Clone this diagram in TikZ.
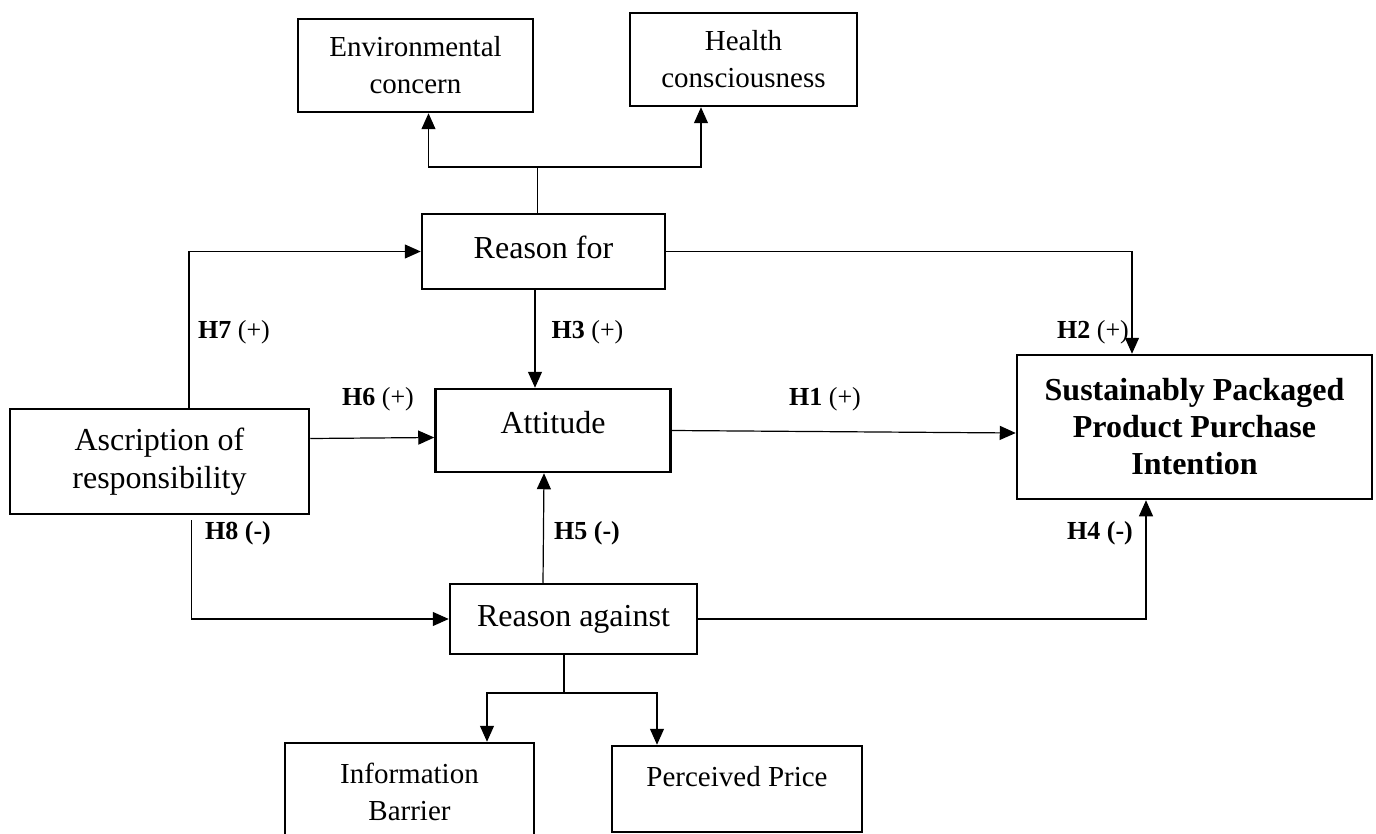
\documentclass[tikz,border=0pt]{standalone}
\usepackage{fontspec}
\setmainfont{Liberation Serif}
\usetikzlibrary{positioning,arrows.meta}

\begin{document}
\begin{tikzpicture}[x=1pt,y=-1pt,on grid]
    \tikzstyle{box}=[draw, line width=2.5pt, align=center, inner sep=0pt, font=\fontsize{32}{38}\selectfont]
    \tikzstyle{smallbox}=[box, font=\fontsize{29}{37}\selectfont]
    \tikzstyle{hyp}=[inner sep=0pt, font=\fontsize{26}{30}\selectfont]
    \tikzstyle{link}=[line width=1.2pt]
    \tikzstyle{arr}=[link, -{Triangle[length=16pt,width=14pt]}]
    \useasboundingbox (0,0) rectangle (1376,834);

    \node[box, minimum width=235pt, minimum height=83pt, text depth=17pt] (att) at (553,430.5) {Attitude};

    \node[box, minimum width=243pt, minimum height=75pt, text depth=9pt, above left=179pt and 9.5pt of att] (rfor) {Reason for};
    \node[box, minimum width=247pt, minimum height=70pt, below right=188.5pt and 20.5pt of att] (ragainst) {Reason against};
    \node[box, minimum width=299pt, minimum height=105pt, below left=31pt and 393.5pt of att] (asc) {Ascription of\\responsibility};
    \node[box, minimum width=355pt, minimum height=144pt, font=\bfseries\fontsize{32}{37}\selectfont, above right=3.5pt and 641.5pt of att] (sppp) {Sustainably Packaged\\Product Purchase\\Intention};

    \node[smallbox, minimum width=235pt, minimum height=93pt, above left=186pt and 128pt of rfor] (env) {Environmental\\concern};
    \node[smallbox, minimum width=227pt, minimum height=93pt, above right=192pt and 200pt of rfor] (health) {Health\\consciousness};
    \node[smallbox, minimum width=249pt, minimum height=97pt, below left=172.5pt and 164pt of ragainst] (info) {Information\\Barrier};
    \node[smallbox, minimum width=250pt, minimum height=86pt, text depth=26pt, below right=170pt and 163.5pt of ragainst] (price) {Perceived Price};

    \node[hyp] (h7) at (234,332) {\textbf{H7} (+)};
    \node[hyp] (h3) at (587.5,332) {\textbf{H3} (+)};
    \node[hyp] (h2) at (1093,332) {\textbf{H2} (+)};
    \node[hyp] (h6) at (378,399) {\textbf{H6} (+)};
    \node[hyp] (h1) at (825,399) {\textbf{H1} (+)};
    \node[hyp] (h8) at (238,533) {\textbf{H8 (-)}};
    \node[hyp] (h5) at (587,533) {\textbf{H5 (-)}};
    \node[hyp] (h4) at (1100,533) {\textbf{H4 (-)}};

    \coordinate (forsplit) at (537.5,167);
    \draw[link] ([xshift=-6pt]rfor.north) -- (forsplit);
    \draw[arr] (forsplit) -| ([xshift=13pt]env.south);
    \draw[arr] (forsplit) -| ([xshift=-42.5pt]health.south);

    \draw[arr] ([xshift=29.5pt]asc.north) |- (rfor.west);
    \draw[arr] ([xshift=-8.5pt]rfor.south) -- ([xshift=-18pt]att.north);
    \draw[arr] ([yshift=23pt]asc.east) -- ([yshift=-7pt]att.west);
    \draw[arr] (att.east) -- ([yshift=-6pt]sppp.west);
    \draw[arr] (rfor.east) -| ([xshift=-62.5pt]sppp.north);
    \draw[arr] (ragainst.east) -| ([xshift=-48.5pt]sppp.south);
    \draw[arr] ([xshift=-30.5pt]ragainst.north) -- ([xshift=-9pt]att.south);
    \draw[arr, shorten <=5pt] ([xshift=32pt]asc.south) |- (ragainst.west);

    \coordinate (againstsplit) at (564,693);
    \draw[link] ([xshift=-9.5pt]ragainst.south) -- (againstsplit);
    \draw[arr] (againstsplit) -| ([xshift=77.5pt]info.north);
    \draw[arr] (againstsplit) -| ([xshift=-80pt]price.north);
\end{tikzpicture}
\end{document}
